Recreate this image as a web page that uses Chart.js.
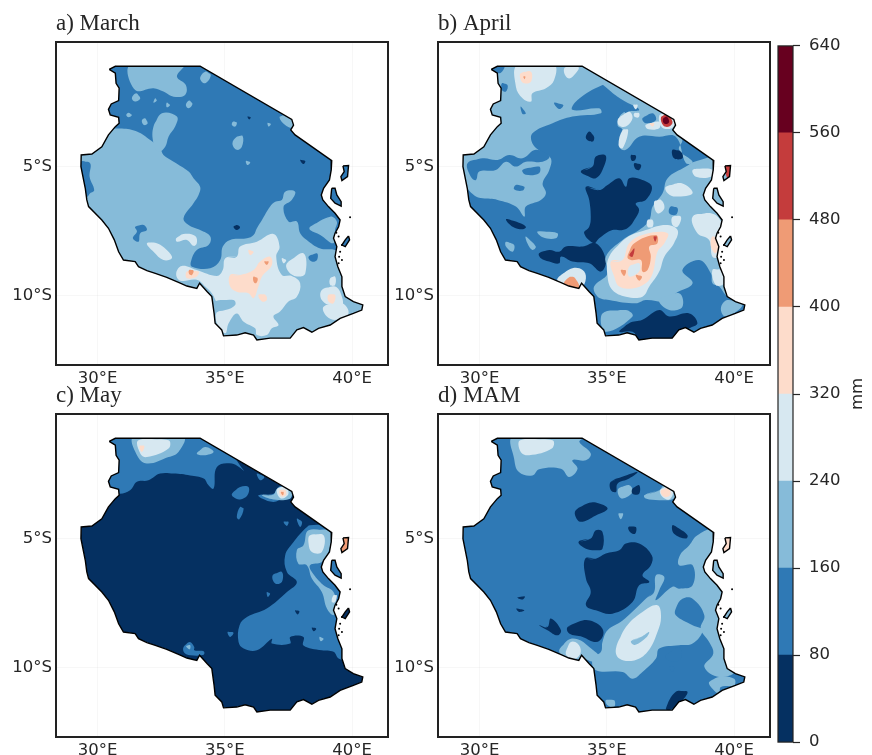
<!DOCTYPE html>
<html>
<head>
<meta charset="utf-8">
<title>Rainfall maps</title>
<script src="https://cdn.jsdelivr.net/npm/chart.js@4"></script>
<style>
html, body { margin: 0; padding: 0; background: #fff; }
#page { position: relative; width: 872px; height: 755px; overflow: hidden; }
.box { position: absolute; }
canvas { filter: blur(0.3px); }
</style>
</head>
<body>
<div id="page">
  <div class="box" style="left:0;top:10px;width:392px;height:385px"><canvas id="mapA"></canvas></div>
  <div class="box" style="left:382px;top:10px;width:392px;height:385px"><canvas id="mapB"></canvas></div>
  <div class="box" style="left:0;top:382px;width:392px;height:385px"><canvas id="mapC"></canvas></div>
  <div class="box" style="left:382px;top:382px;width:392px;height:385px"><canvas id="mapD"></canvas></div>
  <div class="box" style="left:760px;top:27px;width:112px;height:734px"><canvas id="colorbar"></canvas></div>
</div>
<script>
// colour bands in mm
const bandEdges = [0, 80, 160, 240, 320, 400, 480, 560, 640];
const bandColors = ['#053061', '#2f79b5', '#86bbd9', '#d7e8f1', '#fddccb', '#ef9b75', '#c43c3c', '#67001f'];
const lonTicks = [30, 35, 40];
const latTicks = [-5, -10];
const panelTitles = ['a) March', 'b) April', 'c) May', 'd) MAM'];

// country outline, lon/lat pairs
const coastline = [30.46,-1.23, 30.70,-1.11, 34.03,-1.11, 37.63,-3.17, 37.70,-3.39, 37.59,-3.58, 37.76,-3.77, 39.20,-4.77,
  39.18,-5.13, 39.11,-5.52, 38.88,-5.84, 38.79,-6.10, 38.85,-6.29, 39.07,-6.55, 39.33,-6.81, 39.53,-7.07, 39.47,-7.33,
  39.33,-7.58, 39.27,-7.78, 39.40,-8.10, 39.33,-8.49, 39.44,-8.88, 39.60,-9.27, 39.60,-9.65, 39.73,-10.04, 40.05,-10.23,
  40.42,-10.36, 40.38,-10.56, 40.05,-10.69, 39.53,-10.88, 39.14,-11.14, 38.68,-11.27, 38.42,-11.42, 38.09,-11.24,
  37.83,-11.33, 37.57,-11.65, 37.17,-11.65, 36.78,-11.65, 36.26,-11.72, 36.13,-11.53, 35.80,-11.44, 35.47,-11.53,
  34.95,-11.56, 34.88,-11.33, 34.62,-11.07, 34.58,-10.69, 34.49,-10.04, 34.30,-9.84, 34.01,-9.52, 33.90,-9.72,
  33.51,-9.63, 33.25,-9.52, 32.72,-9.29, 32.27,-9.14, 31.94,-9.03, 31.61,-8.88, 31.48,-8.68, 31.02,-8.62, 30.83,-8.30,
  30.66,-7.84, 30.43,-7.39, 30.17,-7.07, 29.65,-6.55, 29.58,-6.29, 29.52,-5.84, 29.35,-5.00, 29.36,-4.55, 29.78,-4.51,
  30.17,-4.23, 30.43,-3.77, 30.70,-3.45, 30.85,-3.32, 30.83,-3.09, 30.50,-3.00, 30.43,-2.78, 30.54,-2.57, 30.83,-2.44,
  30.85,-1.96, 30.73,-1.77, 30.70,-1.38];
const pemba = [39.64,-4.97, 39.86,-4.96, 39.82,-5.39, 39.60,-5.54, 39.56,-5.39, 39.69,-5.19];
const zanzibar = [39.20,-5.84, 39.33,-5.84, 39.40,-6.10, 39.57,-6.36, 39.57,-6.53, 39.33,-6.42, 39.16,-6.23];
const mafia = [39.86,-7.69, 39.90,-7.84, 39.73,-8.10, 39.60,-8.04, 39.73,-7.84];
const islets = [39.92,-6.96, 39.47,-7.71, 39.38,-7.56, 39.60,-8.04, 39.49,-8.49, 39.60,-8.62, 39.47,-8.75, 39.53,-8.30];

// contour shapes: [lower band edge in mm, lon/lat ring], painted in order
const marchShapes = [
  [80, coastline], [80, pemba], [80, zanzibar], [80, mafia],
  [160, [30.43,-3.58, 30.96,-3.52, 31.55,-3.64, 32.07,-3.97, 32.46,-4.29, 32.59,-4.55, 32.99,-4.81, 33.58,-5.19, 33.77,-5.45, 34.03,-5.78, 33.97,-6.10, 33.77,-6.42, 33.38,-7.00, 33.58,-7.26, 34.03,-7.46, 34.43,-7.71, 34.36,-8.04, 33.90,-8.23, 33.67,-8.68, 33.71,-8.88, 34.43,-8.94, 34.82,-8.62, 34.92,-8.10, 35.21,-7.84, 35.87,-7.78, 36.13,-7.65, 36.26,-7.39, 36.46,-7.07, 36.78,-6.55, 36.98,-6.36, 37.24,-6.29, 37.37,-5.97, 37.76,-5.97, 37.63,-6.29, 37.31,-6.55, 37.50,-7.13, 37.83,-7.13, 37.96,-7.58, 38.22,-7.84, 38.75,-8.17, 39.33,-8.23, 39.92,-8.49, 40.84,-10.69, 39.53,-11.98, 34.30,-11.98, 30.37,-8.75, 29.06,-6.16, 29.06,-4.61]],
  [80, [29.35,-4.81, 29.71,-4.87, 29.69,-5.39, 29.87,-5.91, 29.71,-6.03, 29.58,-6.16, 29.19,-5.39]],
  [80, [31.48,-7.33, 31.81,-7.26, 31.94,-7.46, 31.68,-7.58, 31.61,-7.91, 31.39,-7.78, 31.55,-7.52]],
  [80, [38.29,-8.49, 38.62,-8.36, 38.62,-8.62, 38.42,-8.68]],
  [160, [31.28,-1.06, 33.38,-1.06, 33.12,-1.51, 33.47,-1.84, 33.44,-2.22, 32.99,-2.29, 32.59,-2.09, 32.20,-1.96, 31.48,-2.03]],
  [160, [34.23,-1.32, 34.45,-1.45, 34.23,-1.77, 34.03,-1.58]],
  [160, [31.52,-2.16, 31.68,-2.35, 31.48,-2.48, 31.35,-2.35]],
  [160, [33.60,-2.44, 33.73,-2.57, 33.58,-2.74, 33.47,-2.61]],
  [160, [31.87,-3.13, 31.97,-3.32, 31.83,-3.39, 31.74,-3.22]],
  [160, [31.22,-2.91, 31.35,-3.00, 31.22,-3.09, 31.13,-3.00]],
  [160, [32.20,-3.45, 32.53,-2.93, 33.12,-3.06, 33.05,-3.45, 32.79,-3.84, 32.66,-4.23, 32.40,-4.42, 32.20,-4.10]],
  [160, [35.47,-3.84, 35.70,-3.81, 35.67,-4.23, 35.47,-4.35, 35.30,-4.10]],
  [160, [37.15,-3.09, 37.37,-3.00, 37.70,-3.19, 37.63,-3.48, 37.37,-3.39]],
  [160, [35.32,-3.26, 35.47,-3.29, 35.41,-3.45, 35.28,-3.39]],
  [160, [36.68,-3.30, 36.81,-3.35, 36.72,-3.45]],
  [160, [35.83,-4.78, 36.00,-4.83, 35.89,-4.94]],
  [160, [32.27,-2.35, 32.33,-2.44, 32.20,-2.52]],
  [160, [32.72,-2.52, 32.85,-2.61, 32.72,-2.70]],
  [160, [38.35,-7.33, 39.14,-6.94, 39.40,-7.13, 39.33,-7.46, 39.27,-7.97, 38.75,-7.65, 38.35,-7.46]],
  [0, [35.34,-7.33, 35.47,-7.26, 35.60,-7.35, 35.47,-7.46]],
  [0, [37.96,-4.74, 38.16,-4.78, 38.09,-4.90]],
  [0, [35.89,-3.06, 36.02,-3.09, 35.96,-3.17]],
  [240, [35.02,-8.55, 35.47,-8.49, 35.60,-8.10, 36.26,-7.91, 36.91,-7.61, 37.15,-8.10, 37.02,-8.49, 37.24,-9.20, 37.63,-9.24, 37.96,-9.52, 37.83,-10.04, 37.50,-10.23, 37.17,-10.62, 36.91,-10.81, 37.11,-11.14, 36.85,-11.27, 36.65,-11.53, 36.26,-11.53, 36.19,-11.27, 35.74,-11.01, 35.47,-10.69, 35.15,-11.07, 35.02,-11.46, 34.69,-11.07, 34.66,-10.69, 34.82,-10.56, 34.69,-10.30, 34.49,-9.91, 34.23,-9.65, 33.90,-9.39, 33.25,-9.42, 33.09,-9.14, 33.31,-8.85, 33.90,-9.01, 34.69,-9.24, 34.92,-9.01]],
  [160, [34.62,-10.23, 35.34,-10.17, 35.41,-10.36, 35.02,-10.56, 34.69,-10.56]],
  [240, [37.44,-8.75, 38.09,-8.36, 38.16,-9.14, 37.83,-9.26, 37.50,-9.07]],
  [240, [31.94,-7.97, 32.33,-7.97, 32.79,-8.30, 32.92,-8.55, 32.59,-8.62, 32.20,-8.30]],
  [240, [33.09,-7.78, 33.38,-7.61, 33.84,-7.69, 33.90,-7.97, 33.77,-8.07, 33.51,-7.84, 33.12,-7.91]],
  [240, [38.81,-9.78, 39.33,-9.65, 39.60,-10.04, 39.60,-10.43, 39.27,-10.43, 38.81,-10.17]],
  [240, [38.88,-10.43, 39.60,-10.30, 39.86,-10.69, 39.40,-10.94, 39.01,-10.81]],
  [240, [39.14,-9.33, 39.33,-9.26, 39.33,-9.59, 39.14,-9.59]],
  [240, [37.24,-8.55, 37.41,-8.62, 37.31,-8.75]],
  [320, [35.21,-9.20, 35.60,-9.20, 36.13,-9.01, 36.39,-8.68, 36.78,-8.49, 36.85,-8.81, 36.46,-9.26, 36.32,-9.65, 36.13,-10.10, 35.93,-9.91, 35.47,-9.85, 35.21,-9.65]],
  [320, [36.32,-9.97, 36.59,-9.97, 36.65,-10.17, 36.46,-10.23]],
  [320, [33.51,-9.07, 33.97,-9.07, 33.90,-9.26, 33.51,-9.33]],
  [320, [35.93,-8.23, 36.13,-8.30, 36.00,-8.43]],
  [320, [39.07,-9.97, 39.33,-9.97, 39.27,-10.30, 39.07,-10.23]],
  [400, [36.13,-9.26, 36.29,-9.33, 36.23,-9.52, 36.13,-9.46]],
  [400, [36.55,-8.68, 36.72,-8.68, 36.65,-8.81]],
  [400, [33.60,-9.01, 33.77,-9.03, 33.71,-9.20, 33.60,-9.16]]
];

const aprilShapes = [
  [80, coastline], [480, pemba], [160, zanzibar], [80, mafia],
  [160, [30.25,-1.00, 34.18,-1.00, 35.22,-1.84, 34.83,-1.84, 33.85,-2.42, 33.65,-2.80, 34.70,-2.74, 34.77,-2.93, 33.65,-3.06, 32.87,-3.32, 32.08,-3.71, 32.08,-4.10, 32.41,-4.42, 32.80,-4.68, 32.74,-5.13, 32.48,-5.65, 32.61,-6.03, 32.41,-6.29, 31.82,-6.55, 31.76,-6.94, 31.43,-6.55, 30.71,-6.29, 30.12,-6.23, 29.86,-6.16, 29.47,-5.78, 29.07,-5.13, 29.20,-4.23]],
  [80, [29.53,-4.87, 30.12,-4.68, 30.71,-4.74, 31.17,-4.55, 31.69,-4.68, 32.21,-4.35, 32.74,-4.61, 32.48,-4.81, 31.82,-4.81, 31.43,-5.00, 31.04,-4.81, 30.64,-5.13, 29.99,-5.19, 29.86,-5.52, 29.66,-5.39]],
  [80, [31.69,-5.13, 32.34,-5.00, 32.34,-5.26, 31.82,-5.32]],
  [80, [31.43,-5.71, 31.76,-5.78, 31.69,-5.93, 31.36,-5.88]],
  [80, [30.38,-1.06, 30.97,-1.06, 30.84,-1.36, 30.58,-1.32]],
  [80, [30.88,-1.77, 31.10,-1.84, 31.04,-2.09, 30.88,-2.03]],
  [80, [31.62,-2.67, 31.82,-2.93, 31.69,-2.96]],
  [80, [32.93,-2.52, 33.29,-2.61, 33.13,-2.77]],
  [240, [31.49,-1.06, 32.93,-1.06, 32.93,-1.64, 32.61,-1.96, 32.08,-2.16, 32.02,-2.48, 31.69,-2.35, 31.43,-1.90]],
  [320, [31.62,-1.38, 32.02,-1.32, 32.02,-1.71, 31.76,-1.77, 31.62,-1.64]],
  [400, [31.72,-1.51, 31.80,-1.51, 31.77,-1.61]],
  [240, [33.37,-1.15, 33.89,-1.15, 33.78,-1.38, 33.52,-1.58, 33.33,-1.38]],
  [160, [34.05,-1.06, 37.84,-3.32, 37.97,-3.97, 37.84,-4.35, 38.37,-4.81, 38.11,-4.87, 37.71,-3.84, 37.06,-3.84, 36.27,-3.84, 35.75,-4.35, 35.49,-4.23, 35.62,-3.58, 35.42,-3.39, 35.62,-2.93, 36.27,-2.80, 35.62,-2.42, 35.09,-2.03]],
  [80, [35.62,-2.61, 35.95,-2.67, 35.75,-2.93]],
  [80, [36.40,-3.13, 36.80,-2.93, 36.93,-3.19, 36.53,-3.32]],
  [240, [35.46,-3.13, 35.88,-2.87, 36.01,-3.13, 35.75,-3.45, 35.46,-3.39]],
  [240, [35.62,-3.58, 35.84,-3.58, 35.62,-4.29, 35.46,-4.16]],
  [240, [36.08,-2.93, 36.27,-2.93, 36.25,-3.09, 36.08,-3.06]],
  [240, [36.04,-2.61, 36.21,-2.61, 36.14,-2.78]],
  [240, [36.53,-3.38, 37.06,-3.26, 37.06,-3.51, 36.60,-3.54]],
  [240, [37.06,-3.03, 37.35,-2.90, 37.68,-3.26, 37.55,-3.51, 37.17,-3.48]],
  [320, [36.69,-3.32, 36.86,-3.32, 36.80,-3.45]],
  [480, [37.13,-3.09, 37.35,-2.98, 37.58,-3.26, 37.45,-3.45, 37.22,-3.41]],
  [560, [37.22,-3.13, 37.35,-3.06, 37.45,-3.26, 37.35,-3.35, 37.22,-3.29]],
  [0, [34.31,-3.64, 34.50,-3.84, 34.44,-4.03, 34.18,-3.90]],
  [0, [35.95,-4.55, 36.14,-4.58, 36.11,-4.74, 35.98,-4.77]],
  [0, [36.08,-4.87, 36.34,-4.93, 36.27,-5.13, 36.11,-5.07]],
  [0, [37.58,-4.35, 37.91,-4.42, 37.97,-4.68, 37.64,-4.68]],
  [0, [33.98,-5.19, 34.44,-5.00, 34.57,-4.61, 34.96,-4.58, 34.83,-5.13, 34.57,-5.45, 34.31,-5.39]],
  [0, [34.18,-5.78, 34.70,-5.91, 35.03,-5.71, 35.49,-5.45, 35.75,-5.78, 35.88,-5.45, 36.40,-5.52, 36.77,-5.78, 36.53,-6.29, 36.14,-6.42, 36.27,-6.68, 36.08,-7.07, 35.88,-7.33, 35.62,-7.46, 35.22,-7.46, 34.70,-7.78, 34.50,-7.97, 34.11,-7.58, 34.31,-7.33, 34.37,-6.94, 34.31,-6.29]],
  [0, [32.34,-8.36, 32.74,-8.23, 33.13,-8.30, 33.39,-8.10, 34.05,-8.10, 34.57,-7.97, 34.96,-8.62, 34.77,-9.07, 34.31,-8.75, 33.65,-8.68, 33.20,-8.49, 33.13,-8.75, 32.74,-8.68, 32.41,-8.55]],
  [0, [31.04,-7.04, 31.43,-7.13, 31.82,-7.33, 31.69,-7.43, 31.30,-7.33]],
  [0, [35.49,-11.40, 35.88,-11.07, 36.40,-10.94, 37.06,-10.56, 37.45,-10.81, 38.24,-10.69, 38.56,-11.07, 38.24,-11.27, 37.71,-11.65, 36.40,-11.78, 36.01,-11.40]],
  [160, [31.82,-7.71, 32.21,-8.10, 32.08,-8.23, 31.88,-7.97]],
  [160, [31.04,-7.91, 31.36,-8.04, 31.30,-8.30, 31.04,-8.10]],
  [160, [32.28,-7.52, 33.06,-7.58, 33.00,-7.78, 32.48,-7.74]],
  [160, [37.39,-5.45, 38.11,-5.00, 38.44,-4.81, 39.41,-4.74, 40.07,-7.46, 40.33,-10.30, 39.74,-10.04, 39.41,-9.65, 39.15,-9.52, 39.09,-9.14, 38.63,-8.62, 37.97,-9.01, 38.37,-9.52, 37.71,-9.91, 37.39,-10.23, 36.53,-10.17, 36.14,-10.30, 35.09,-10.17, 34.64,-10.04, 34.50,-9.65, 35.03,-9.14, 34.96,-8.49, 35.62,-7.84, 36.27,-7.46, 36.67,-7.07, 36.80,-6.55, 37.19,-6.03]],
  [240, [33.20,-9.20, 33.65,-8.94, 34.05,-9.01, 34.18,-9.33, 33.98,-9.72, 33.52,-9.72, 33.06,-9.42]],
  [400, [33.52,-9.29, 33.72,-9.29, 33.92,-9.72, 33.33,-9.55]],
  [240, [35.09,-8.49, 35.75,-7.78, 36.53,-7.46, 37.32,-7.26, 37.78,-7.46, 37.64,-7.97, 37.26,-8.49, 37.06,-9.07, 36.67,-9.65, 36.40,-10.04, 35.75,-10.04, 35.22,-9.78, 35.03,-9.26]],
  [320, [35.16,-8.68, 35.62,-8.62, 35.88,-7.97, 36.53,-7.61, 37.39,-7.58, 37.26,-7.97, 36.99,-8.30, 36.80,-9.14, 36.53,-9.52, 36.01,-9.72, 35.49,-9.65, 35.29,-9.26]],
  [240, [35.88,-8.88, 36.27,-8.75, 36.27,-9.07, 35.88,-9.26]],
  [400, [35.81,-8.49, 36.08,-7.97, 36.93,-7.65, 36.99,-7.97, 36.67,-8.10, 36.73,-8.49, 36.60,-9.01, 36.40,-9.07, 36.34,-8.62, 35.95,-8.62]],
  [480, [35.88,-8.43, 36.08,-8.17, 36.01,-8.49]],
  [480, [36.84,-7.71, 36.96,-7.71, 36.90,-7.91]],
  [400, [35.55,-9.01, 35.75,-9.03, 35.68,-9.24]],
  [400, [36.14,-9.20, 36.38,-9.26, 36.27,-9.42]],
  [240, [38.37,-5.13, 38.76,-5.07, 39.15,-5.13, 39.09,-5.39, 38.50,-5.39]],
  [240, [38.37,-6.94, 39.09,-6.81, 39.48,-7.13, 39.41,-7.58, 39.41,-8.49, 39.15,-8.49, 39.02,-7.84, 38.56,-7.58]],
  [240, [39.15,-9.01, 39.48,-9.01, 39.61,-9.52, 39.28,-9.59]],
  [240, [36.86,-6.36, 37.13,-6.29, 37.26,-6.61, 36.99,-6.81]],
  [240, [37.32,-5.78, 37.97,-5.65, 38.37,-6.03, 37.71,-6.16, 37.39,-6.03]],
  [240, [36.60,-7.07, 36.80,-7.07, 36.80,-7.33, 36.60,-7.33]],
  [240, [37.58,-6.94, 37.91,-6.94, 37.78,-7.33, 37.58,-7.26]],
  [80, [37.51,-6.55, 37.78,-6.61, 37.71,-6.87, 37.45,-6.81]],
  [320, [39.15,-7.71, 39.41,-7.84, 39.28,-8.36, 39.09,-8.10]],
  [160, [34.83,-10.69, 35.75,-10.56, 36.01,-10.81, 34.96,-11.40]],
  [160, [39.74,-10.17, 40.33,-10.36, 39.67,-10.81, 39.48,-10.49]],
  [160, [37.06,-10.17, 37.84,-9.91, 37.97,-10.43, 37.45,-10.56]]
];

const mayShapes = [
  [0, coastline], [400, pemba], [80, zanzibar], [0, mafia],
  [80, [30.37,-0.74, 34.17,-0.74, 35.74,-2.35, 35.28,-2.09, 34.69,-2.22, 34.56,-3.06, 34.36,-2.93, 34.17,-2.67, 33.64,-2.55, 32.99,-2.48, 32.46,-2.48, 32.00,-2.74, 31.55,-2.80, 31.28,-3.13, 30.83,-3.26, 30.37,-3.06, 30.11,-0.74]],
  [80, [35.28,-3.26, 35.60,-3.00, 35.93,-3.00, 35.89,-3.32, 35.60,-3.48, 35.34,-3.39]],
  [80, [36.32,-3.32, 36.91,-3.26, 37.11,-3.00, 37.37,-2.93, 37.63,-3.19, 37.57,-3.45, 37.31,-3.45, 36.91,-3.58, 36.46,-3.45]],
  [80, [36.26,-2.48, 36.55,-2.61, 36.39,-2.74]],
  [80, [35.60,-3.77, 35.74,-3.84, 35.57,-4.25, 35.47,-4.16]],
  [80, [37.31,-4.35, 37.50,-4.35, 37.44,-4.51]],
  [80, [37.83,-4.23, 38.03,-4.35, 37.96,-4.55]],
  [80, [38.16,-4.61, 38.35,-4.48, 39.27,-4.61, 39.53,-6.68, 39.40,-8.23, 39.73,-9.65, 39.47,-9.65, 39.27,-9.39, 38.81,-9.33, 38.09,-9.14, 38.09,-8.81, 37.57,-8.81, 37.57,-9.07, 36.85,-9.07, 36.85,-8.88, 36.26,-9.33, 35.74,-9.26, 35.54,-9.01, 35.58,-8.36, 35.87,-8.04, 36.65,-7.71, 37.44,-7.07, 37.83,-6.68, 37.44,-6.29, 37.37,-5.65, 37.70,-5.13]],
  [80, [36.88,-6.42, 37.24,-6.29, 37.24,-6.68, 36.98,-6.74]],
  [80, [36.65,-7.07, 36.78,-7.13, 36.69,-7.26]],
  [80, [35.11,-8.62, 35.34,-8.65, 35.21,-8.81]],
  [80, [33.38,-9.20, 33.62,-9.01, 33.80,-9.20, 33.80,-9.33, 34.17,-9.37, 34.17,-9.50, 33.64,-9.52, 33.41,-9.42]],
  [160, [38.29,-4.68, 39.14,-4.74, 39.07,-5.52, 38.81,-5.91, 38.35,-6.03, 38.42,-6.29, 38.88,-6.81, 39.27,-7.07, 39.40,-7.71, 39.27,-7.97, 39.01,-7.71, 38.81,-7.07, 38.42,-6.55, 38.22,-6.03, 37.89,-5.97, 37.83,-5.45, 38.09,-5.26]],
  [240, [38.35,-4.87, 38.88,-4.87, 38.81,-5.52, 38.42,-5.52, 38.29,-5.19]],
  [240, [39.27,-7.20, 39.40,-7.20, 39.33,-7.46, 39.20,-7.46]],
  [0, [37.76,-7.78, 37.93,-7.82, 37.86,-7.94]],
  [0, [38.42,-8.45, 38.59,-8.49, 38.49,-8.59]],
  [160, [38.72,-8.81, 38.88,-8.88, 38.77,-8.98]],
  [160, [31.42,-1.06, 33.38,-1.06, 33.18,-1.64, 32.79,-1.84, 31.94,-2.09, 31.55,-1.77]],
  [240, [31.61,-1.19, 32.79,-1.19, 32.79,-1.51, 31.94,-1.84, 31.68,-1.70]],
  [320, [31.65,-1.41, 31.84,-1.41, 31.74,-1.64]],
  [160, [33.90,-1.70, 34.23,-1.45, 34.56,-1.64, 34.17,-1.77]],
  [160, [36.46,-3.32, 36.91,-3.29, 37.07,-3.06, 37.57,-3.06, 37.57,-3.45, 36.91,-3.48]],
  [240, [37.07,-3.06, 37.37,-2.97, 37.50,-3.26, 37.24,-3.45, 37.07,-3.29]],
  [320, [37.15,-3.13, 37.37,-3.11, 37.40,-3.32, 37.20,-3.36]],
  [400, [37.20,-3.19, 37.31,-3.19, 37.28,-3.32]],
  [160, [33.48,-9.16, 33.64,-9.13, 33.62,-9.29]]
];

const mamShapes = [
  [80, coastline], [320, pemba], [160, zanzibar], [80, mafia],
  [160, [31.32,-1.06, 34.11,-1.06, 33.92,-1.25, 34.37,-1.70, 34.18,-1.96, 33.65,-1.96, 33.85,-2.29, 33.52,-2.61, 33.20,-2.29, 32.34,-2.31, 32.08,-2.55, 31.55,-2.42, 31.36,-1.90]],
  [240, [31.60,-1.19, 32.87,-1.19, 32.84,-1.51, 31.95,-1.77, 31.62,-1.64]],
  [160, [35.46,-3.06, 35.88,-2.93, 36.01,-3.19, 35.62,-3.45, 35.46,-3.32]],
  [160, [36.47,-3.32, 37.06,-3.13, 37.26,-2.93, 37.64,-3.13, 37.64,-3.45, 37.06,-3.51, 36.53,-3.45]],
  [240, [37.09,-3.13, 37.39,-2.96, 37.60,-3.19, 37.45,-3.48, 37.19,-3.39]],
  [320, [37.13,-3.13, 37.39,-3.04, 37.51,-3.26, 37.35,-3.39, 37.17,-3.32]],
  [160, [35.46,-4.03, 35.64,-4.03, 35.55,-4.25]],
  [0, [35.16,-2.80, 35.75,-2.55, 36.21,-2.42, 35.88,-2.67, 35.42,-2.87, 35.36,-3.19, 35.16,-3.13]],
  [0, [36.01,-3.06, 36.27,-2.93, 36.27,-3.26, 36.01,-3.26]],
  [0, [33.78,-3.90, 34.31,-3.61, 34.70,-3.64, 35.03,-3.84, 34.57,-4.10, 33.98,-4.35, 33.78,-4.16]],
  [0, [33.89,-5.13, 34.37,-5.00, 34.57,-4.68, 34.83,-4.74, 34.83,-5.39, 34.57,-5.45, 34.18,-5.39]],
  [0, [35.85,-4.55, 36.14,-4.55, 36.11,-4.81, 35.91,-4.74]],
  [0, [37.58,-4.48, 37.84,-4.61, 38.17,-4.87, 38.11,-5.00, 37.64,-4.81]],
  [0, [34.15,-5.78, 34.57,-5.78, 34.96,-5.58, 35.49,-5.45, 35.75,-5.19, 36.27,-5.19, 36.77,-5.65, 36.73,-6.03, 36.40,-6.42, 36.67,-6.68, 36.27,-6.81, 36.01,-7.46, 35.22,-7.91, 34.57,-7.78, 34.18,-7.58, 34.37,-7.07, 34.18,-6.55]],
  [0, [33.46,-8.43, 34.05,-8.17, 34.50,-8.23, 34.83,-8.49, 34.83,-8.81, 34.57,-9.01, 34.05,-8.81, 33.52,-8.68]],
  [0, [32.34,-8.36, 32.67,-8.43, 32.80,-8.10, 33.20,-8.55, 33.06,-8.75, 32.67,-8.55]],
  [0, [31.49,-7.28, 31.78,-7.24, 31.69,-7.36]],
  [0, [31.45,-7.71, 31.76,-7.78, 31.56,-7.84]],
  [160, [36.53,-7.33, 36.86,-7.07, 36.93,-6.42, 37.26,-6.49, 37.06,-7.00, 36.93,-7.39, 37.58,-6.87, 37.84,-6.94, 38.37,-6.81, 38.37,-6.03, 37.84,-6.03, 37.87,-5.65, 38.24,-5.26, 38.56,-4.87, 39.22,-4.68, 39.67,-5.91, 40.07,-10.04, 39.41,-10.36, 38.83,-9.97, 39.18,-9.46, 39.02,-9.01, 38.69,-8.49, 38.83,-7.97, 38.37,-7.33, 37.97,-7.33, 37.71,-7.71, 37.71,-7.97, 38.37,-8.36, 38.76,-8.55, 38.37,-9.07, 37.84,-9.13, 37.06,-9.26, 36.93,-9.65, 36.40,-10.17, 36.01,-10.43, 35.62,-10.17, 34.57,-10.10, 34.44,-9.65, 34.77,-9.39, 34.83,-9.01, 35.03,-8.55, 35.62,-8.17, 36.27,-7.58]],
  [160, [33.13,-9.39, 33.46,-8.94, 33.85,-8.90, 34.31,-9.20, 34.77,-9.65, 34.50,-9.78, 34.05,-9.65, 33.65,-9.72]],
  [240, [33.39,-9.39, 33.59,-9.01, 33.85,-9.07, 33.98,-9.39, 33.78,-9.65, 33.46,-9.58]],
  [80, [37.32,-9.52, 37.84,-9.20, 37.91,-9.65, 37.64,-9.78, 37.32,-9.65]],
  [80, [37.45,-9.97, 37.64,-9.97, 37.58,-10.17]],
  [160, [39.02,-10.56, 39.41,-10.36, 40.00,-10.43, 40.00,-10.69, 39.48,-10.75, 39.41,-11.01, 39.09,-10.75]],
  [240, [35.36,-9.26, 35.75,-8.43, 36.40,-7.84, 36.99,-7.58, 37.13,-8.04, 36.99,-8.62, 36.60,-9.39, 36.08,-9.72, 35.49,-9.65]],
  [160, [35.95,-8.98, 36.40,-8.78, 36.66,-8.62, 36.58,-8.80, 36.10,-9.12]],
  [0, [37.71,-10.94, 38.17,-10.94, 37.84,-11.40, 37.45,-11.65, 37.32,-11.59]],
  [160, [34.96,-11.27, 35.29,-11.27, 35.29,-11.53, 35.03,-11.46]]
];

const lonRange = [28.37, 41.41];
const latRange = [-12.69, -0.17];
const inkColor = '#262626';
const islandRings = [coastline, pemba, zanzibar, mafia];

function bandColor(mm) {
    return bandColors[bandEdges.indexOf(mm)];
}

function toPoints(ring) {
    const pts = [];
    for (let i = 0; i < ring.length; i += 2) pts.push({ x: ring[i], y: ring[i + 1] });
    return pts;
}

// clip contour fills to the country, then lift the clip before the outlines
const clipToLand = {
    id: 'clipToLand',
    beforeDatasetsDraw(chart) {
        const { ctx, scales } = chart;
        ctx.save();
        ctx.beginPath();
        islandRings.forEach(ring => {
            toPoints(ring).forEach((p, i) => {
                const px = scales.x.getPixelForValue(p.x);
                const py = scales.y.getPixelForValue(p.y);
                if (i === 0) ctx.moveTo(px, py); else ctx.lineTo(px, py);
            });
            ctx.closePath();
        });
        ctx.clip();
    },
    beforeDatasetDraw(chart, args) {
        if (args.index === 4) chart.ctx.restore();
    }
};

const frame = {
    id: 'frame',
    afterDraw(chart) {
        const { ctx, chartArea: a } = chart;
        ctx.save();
        ctx.strokeStyle = '#222';
        ctx.lineWidth = chart.canvas.id === 'colorbar' ? 1.2 : 2;
        ctx.strokeRect(a.left, a.top, a.right - a.left, a.bottom - a.top);
        ctx.restore();
    }
};

// colour bar label reads bottom to top
const barLabel = {
    id: 'barLabel',
    afterDraw(chart) {
        const { ctx, chartArea: a } = chart;
        ctx.save();
        ctx.translate(a.right + 65, (a.top + a.bottom) / 2);
        ctx.rotate(-Math.PI / 2);
        ctx.fillStyle = inkColor;
        ctx.font = '16.5px "DejaVu Sans"';
        ctx.textAlign = 'center';
        ctx.textBaseline = 'middle';
        ctx.fillText('mm', 0, 0);
        ctx.restore();
    }
};

function drawMap(id, title, shapes) {
    // first dataset paints last, so outlines go first and the shapes are reversed
    const outlines = islandRings.map(ring => ({
        data: toPoints(ring.concat(ring.slice(0, 2))),
        showLine: true, fill: false, borderColor: '#000', borderWidth: 1.4, pointRadius: 0
    }));
    const specks = {
        data: toPoints(islets), showLine: false, pointRadius: 1, pointBackgroundColor: '#000', pointBorderWidth: 0
    };
    const fills = shapes.slice().reverse().map(([mm, ring]) => ({
        // repeat the first two points so the smoothed contour closes round
        data: toPoints(islandRings.includes(ring) ? ring : ring.concat(ring.slice(0, 4))),
        showLine: true, fill: 'shape', backgroundColor: bandColor(mm), borderWidth: 0, pointRadius: 0,
        tension: islandRings.includes(ring) ? 0 : 0.4
    }));

    new Chart(document.getElementById(id), {
        type: 'scatter',
        data: { datasets: [...outlines, specks, ...fills] },
        plugins: [clipToLand, frame],
        options: {
            responsive: true, maintainAspectRatio: false, animation: false,
            layout: { padding: { right: 4 } },
            plugins: {
                legend: { display: false }, tooltip: { enabled: false },
                title: {
                    display: true, text: title, align: 'start', fullSize: false, color: inkColor,
                    font: { family: 'Liberation Serif', size: 23, weight: 'normal', lineHeight: 1 },
                    padding: { top: 2, bottom: 7 }
                }
            },
            scales: {
                x: {
                    type: 'linear', min: lonRange[0], max: lonRange[1],
                    afterBuildTicks: s => { s.ticks = lonTicks.map(v => ({ value: v })); },
                    afterFit: s => { s.height = 30; },
                    grid: { color: 'rgba(0,0,0,0.03)', drawTicks: false },
                    border: { display: false },
                    ticks: {
                        callback: v => v + '°E', color: inkColor, padding: 4, autoSkip: false, maxRotation: 0,
                        font: { family: 'DejaVu Sans', size: 16.5 }
                    }
                },
                y: {
                    type: 'linear', min: latRange[0], max: latRange[1],
                    afterBuildTicks: s => { s.ticks = latTicks.map(v => ({ value: v })); },
                    afterFit: s => { s.width = 56; },
                    grid: { color: 'rgba(0,0,0,0.03)', drawTicks: false },
                    border: { display: false },
                    ticks: {
                        callback: v => Math.abs(v) + '°S', color: inkColor, padding: 4, autoSkip: false,
                        font: { family: 'DejaVu Sans', size: 16.5 }
                    }
                }
            }
        }
    });
}

drawMap('mapA', panelTitles[0], marchShapes);
drawMap('mapB', panelTitles[1], aprilShapes);
drawMap('mapC', panelTitles[2], mayShapes);
drawMap('mapD', panelTitles[3], mamShapes);

// colour bar: one stacked bar, one dataset per band
new Chart(document.getElementById('colorbar'), {
    type: 'bar',
    data: {
        labels: ['mm'],
        datasets: bandColors.map((c, i) => ({
            data: [bandEdges[i + 1] - bandEdges[i]], backgroundColor: c, borderWidth: 0,
            barPercentage: 1, categoryPercentage: 1
        }))
    },
    plugins: [frame, barLabel],
    options: {
        responsive: true, maintainAspectRatio: false, animation: false,
        layout: { padding: { left: 18 } },
        plugins: { legend: { display: false }, tooltip: { enabled: false } },
        scales: {
            x: { stacked: true, display: false },
            y: {
                stacked: true, position: 'right', min: 0, max: 640,
                afterFit: s => { s.width = 79; },
                grid: { drawOnChartArea: false, color: inkColor, tickLength: 7, tickWidth: 1.2 },
                border: { display: false },
                ticks: { stepSize: 80, color: inkColor, padding: 9, font: { family: 'DejaVu Sans', size: 16.5 } }
            }
        }
    }
});
</script>
</body>
</html>
